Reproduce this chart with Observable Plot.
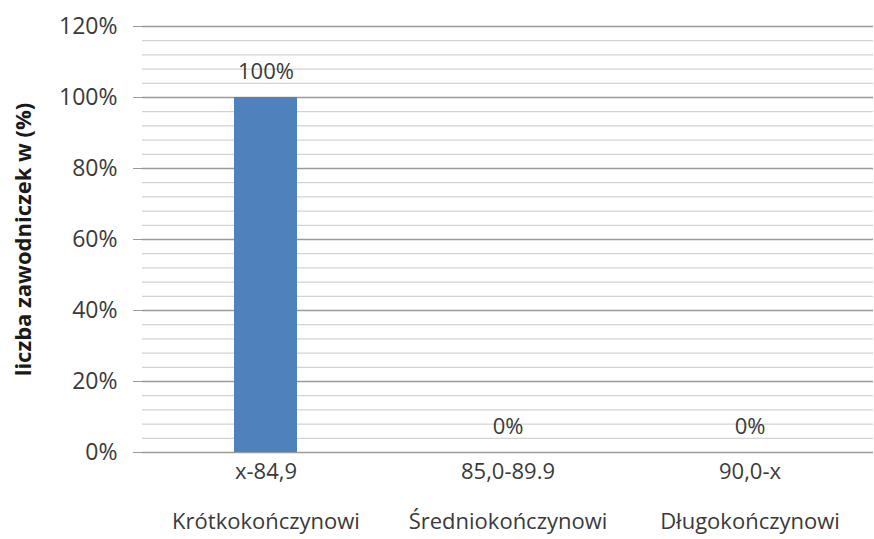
<!DOCTYPE html>
<html>
<head>
<meta charset="utf-8">
<script src="https://cdn.jsdelivr.net/npm/d3@7"></script>
<script src="https://cdn.jsdelivr.net/npm/@observablehq/plot@0.6"></script>
<style>
  html, body { margin: 0; padding: 0; background: #fff; }
  svg { display: block; }
</style>
</head>
<body>
<div id="chart"></div>
<script>
const ranges = ["x-84,9", "85,0-89.9", "90,0-x"];
const groups = ["Krótkokończynowi", "Średniokończynowi", "Długokończynowi"];
const values = [1.00, 0.00, 0.00];
const majorTicks = [0, 0.2, 0.4, 0.6, 0.8, 1.0, 1.2];
const minorTicks = d3.range(0, 1.2001, 0.04).filter(v => Math.abs(v / 0.2 - Math.round(v / 0.2)) > 1e-6);
const yTitle = "liczba zawodniczek w (%)";

const data = ranges.map((r, i) => ({range: r, group: groups[i], value: values[i]}));
const font = "'Open Sans', sans-serif";
const textColor = "#3a3a3a";

const chart = Plot.plot({
  width: 874,
  height: 539,
  marginLeft: 142,
  marginRight: 1,
  marginTop: 26,
  marginBottom: 87,
  style: {fontFamily: font, background: "#fff", overflow: "visible"},
  x: {domain: ranges, paddingInner: 0.74, paddingOuter: 0.38, axis: null},
  y: {domain: [0, 1.2], axis: null},
  marks: [
    Plot.ruleY(minorTicks, {stroke: "#c8c8c8", strokeWidth: 1}),
    Plot.ruleY(majorTicks, {stroke: "#9a9a9a", strokeWidth: 1.3}),
    Plot.ruleX([0], {frameAnchor: "left", stroke: "#9a9a9a", strokeWidth: 1.3}),
    Plot.axisY({
      ticks: majorTicks, tickFormat: d3.format(".0%"), tickSize: 9, tickPadding: 16,
      stroke: "#9a9a9a", fontSize: 23, fill: textColor, label: null
    }),
    Plot.barY(data, {x: "range", y: "value", fill: "#4f81bd"}),
    Plot.text(data, {x: "range", y: "value", text: d => d3.format(".0%")(d.value), dy: -26, fontSize: 22, fill: textColor}),
    Plot.text(data, {x: "range", text: "range", frameAnchor: "bottom", lineAnchor: "middle", dy: 19, fontSize: 22, fill: textColor}),
    Plot.text(data, {x: "range", text: "group", frameAnchor: "bottom", lineAnchor: "middle", dy: 69, fontSize: 22, fill: textColor}),
    Plot.text([yTitle], {
      frameAnchor: "left", textAnchor: "middle", lineAnchor: "middle", dx: -119, rotate: -90, text: d => d,
      fontSize: 22, fontWeight: "bold", fill: "#1a1a1a"
    })
  ]
});
document.getElementById("chart").appendChild(chart);
</script>
</body>
</html>
